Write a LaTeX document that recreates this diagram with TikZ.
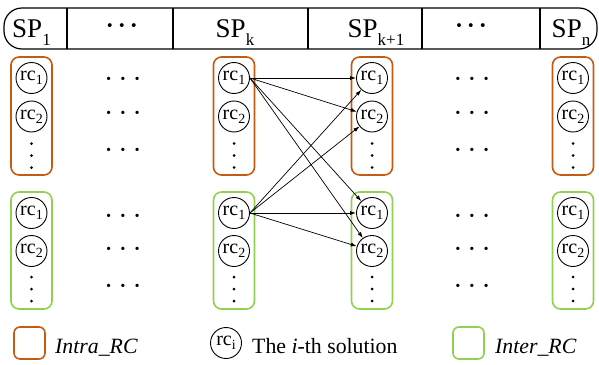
\documentclass[tikz,border=0pt]{standalone}
\usepackage{fontspec}
\setmainfont{Liberation Serif}
\usetikzlibrary{arrows.meta}
\definecolor{intra}{HTML}{C55A11}
\definecolor{inter}{HTML}{92D050}
\newcommand\rcsub[1]{rc\raisebox{-4pt}{\fontsize{14}{14}\selectfont #1}}
\newcommand\spsub[1]{SP\raisebox{-8pt}{\fontsize{17}{17}\selectfont #1}}
\begin{document}
\begin{tikzpicture}[x=1pt,y=-1pt,
 rc/.style={circle,draw,line width=0.9pt,minimum size=31pt,inner sep=0pt,font=\fontsize{20}{20}\selectfont},
 intrabox/.style={draw=intra,line width=1.6pt,rounded corners=8pt,minimum width=41pt,minimum height=118pt,inner sep=0pt},
 interbox/.style={draw=inter,line width=1.6pt,rounded corners=8pt,minimum width=41pt,minimum height=117pt,inner sep=0pt},
 hdots/.style={font=\fontsize{20}{20}\selectfont\bfseries,inner sep=0pt},
 topdots/.style={font=\fontsize{24}{24}\selectfont\bfseries,inner sep=0pt},
 vdot/.style={circle,fill,inner sep=0pt,minimum size=3pt},
 sp/.style={font=\fontsize{27}{27}\selectfont,anchor=base,inner sep=0pt},
 arr/.style={-{Latex[length=6pt,width=4pt]},line width=0.7pt},
 lab/.style={font=\fontsize{21.8}{21.8}\selectfont,anchor=base west,inner sep=0pt},
 bar/.style={line width=1.2pt}]
\useasboundingbox (0,0) rectangle (599,364);
% header bar
\draw[bar,rounded corners=18pt] (4,8) rectangle (597,49);
\foreach \xx in {67,173,308,422,540} \draw[bar] (\xx,8) -- (\xx,49);
\node[sp] (h1) at (31.5,37) {\spsub{1}};
\node[topdots] (hd1) at (122,29) {·\hspace{4pt}·\hspace{4pt}·};
\node[sp] (hk) at (235,37) {\spsub{k}};
\node[sp] (hk1) at (376,37) {\spsub{k+1}};
\node[topdots] (hd2) at (471,29) {·\hspace{4pt}·\hspace{4pt}·};
\node[sp] (hn) at (571,37) {\spsub{n}};
% columns
\foreach \c/\xx in {a/31.5,k/234,m/372,n/573} {
  \node[intrabox] (\c-intra) at (\xx,116) {};
  \node[interbox] (\c-inter) at (\xx,250.5) {};
  \node[rc] (\c-r1) at (\xx,78) {\rcsub{1}};
  \node[rc] (\c-r2) at (\xx,116.5) {\rcsub{2}};
  \node[vdot] (\c-rda) at (\xx,143.5) {};
  \node[vdot] (\c-rdb) at (\xx,155.5) {};
  \node[vdot] (\c-rdc) at (\xx,167.5) {};
  \node[rc] (\c-g1) at (\xx,213) {\rcsub{1}};
  \node[rc] (\c-g2) at (\xx,251) {\rcsub{2}};
  \node[vdot] (\c-gda) at (\xx,277) {};
  \node[vdot] (\c-gdb) at (\xx,289) {};
  \node[vdot] (\c-gdc) at (\xx,301) {};
}
% middle dots
\foreach \dx/\nm in {123/l,472/r} {
  \foreach \yy/\rn in {81/1,115/2,152/3,218/4,251/5,288/6} {
    \node[hdots] (d\nm\rn) at (\dx,\yy) {·\hspace{7.5pt}·\hspace{7.5pt}·};
  }
}
% arrows
\foreach \s in {k-r1,k-g1}
  \foreach \t in {m-r1,m-r2,m-g1,m-g2}
    \draw[arr] (\s.east) -- (\t);
% legend
\node[draw=intra,line width=1.6pt,rounded corners=6pt,minimum width=31pt,minimum height=32pt,inner sep=0pt] (legintra) at (29.5,343) {};
\node[lab] (legintratxt) at (55,353) {\textit{Intra\_RC}};
\node[rc] (legrc) at (226,343) {\rcsub{i}};
\node[lab] (legrctxt) at (252,353) {The \textit{i}-th solution};
\node[draw=inter,line width=1.6pt,rounded corners=6pt,minimum width=31pt,minimum height=32pt,inner sep=0pt] (leginter) at (468.5,343) {};
\node[lab] (leginterxt) at (495,353) {\textit{Inter\_RC}};
\end{tikzpicture}
\end{document}
